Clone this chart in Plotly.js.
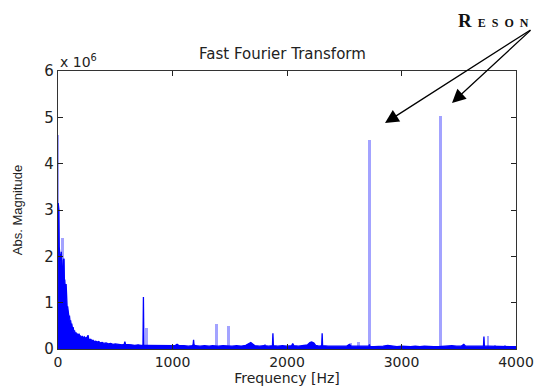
<!DOCTYPE html>
<html>
<head>
<meta charset="utf-8">
<script src="https://cdn.plot.ly/plotly-3.0.1.min.js"></script>
<style>
html,body{margin:0;padding:0;background:#fff;}
#chart{width:538px;height:386px;}
</style>
</head>
<body>
<div id="chart"></div>
<script>
// Spectrum (dark blue), magnitude in units of 10^6
var freqDark = [0,2,5,8,11,14,17,20,23,26,29,32,35,38,41,44,47,50,53,56,59,62,65,68,71,74,77,80,84,88,92,96,100,105,110,115,120,126,132,138,144,150,157,164,171,178,184,190,198,206,214,222,230,238,246,254,262,268,276,286,296,306,318,330,342,356,370,385,400,420,440,460,480,500,520,540,560,578,584,590,610,640,670,700,725,742,746,750,770,800,830,860,900,940,980,1020,1040,1060,1100,1140,1170,1180,1184,1188,1200,1240,1280,1320,1350,1400,1440,1480,1520,1560,1600,1640,1665,1684,1700,1720,1760,1800,1840,1873,1877,1881,1920,1960,2000,2040,2050,2060,2100,2140,2180,2200,2215,2235,2250,2280,2303,2307,2311,2360,2400,2440,2480,2520,2545,2560,2600,2640,2680,2716,2720,2724,2760,2800,2840,2880,2920,2960,3000,3040,3080,3120,3160,3200,3240,3280,3320,3360,3400,3440,3480,3520,3544,3560,3600,3640,3680,3716,3720,3724,3760,3800,3840,3880,3920,3960,4000];
var magDark = [0,3.15,2.7,3.0,2.2,2.1,2.15,1.9,2.05,1.8,2.1,1.7,1.85,1.6,1.75,1.55,1.92,1.6,1.95,1.45,1.5,1.3,1.35,1.1,1.4,0.95,0.98,0.88,0.92,0.75,0.78,0.68,0.72,0.6,0.62,0.52,0.55,0.45,0.47,0.38,0.4,0.33,0.36,0.3,0.32,0.28,0.33,0.26,0.28,0.25,0.27,0.24,0.26,0.22,0.25,0.22,0.3,0.22,0.2,0.21,0.18,0.19,0.16,0.17,0.15,0.16,0.13,0.14,0.12,0.13,0.11,0.12,0.1,0.11,0.1,0.1,0.09,0.1,0.16,0.1,0.09,0.09,0.08,0.09,0.08,0.08,1.12,0.08,0.08,0.08,0.07,0.08,0.07,0.07,0.08,0.07,0.1,0.07,0.07,0.06,0.07,0.09,0.2,0.09,0.07,0.06,0.07,0.06,0.07,0.06,0.07,0.06,0.06,0.07,0.06,0.08,0.11,0.14,0.11,0.07,0.06,0.07,0.06,0.07,0.34,0.07,0.06,0.07,0.06,0.07,0.12,0.07,0.06,0.07,0.09,0.14,0.15,0.13,0.08,0.06,0.07,0.34,0.07,0.06,0.06,0.05,0.06,0.06,0.1,0.06,0.06,0.06,0.05,0.06,0.1,0.05,0.05,0.05,0.06,0.08,0.06,0.05,0.06,0.05,0.05,0.06,0.05,0.06,0.05,0.05,0.05,0.06,0.06,0.07,0.06,0.06,0.1,0.06,0.06,0.06,0.06,0.06,0.27,0.06,0.06,0.06,0.05,0.06,0.05,0.06,0.05];

// Overlaid light-blue peaks
var freqLight = [0,38,772,1386,1491,1807,2560,2625,2720,3340,3754,3816,3904];
var magLight = [4.62,2.4,0.45,0.53,0.50,0.10,0.12,0.15,4.52,5.02,0.27,0.08,0.09];

var xTicks = [0,1000,2000,3000,4000];
var yTicks = [0,1,2,3,4,5,6];

var titleText = 'Fast Fourier Transform';
var xTitle = 'Frequency [Hz]';
var yTitle = 'Abs. Magnitude';
var exponentText = 'x 10<sup>6</sup>';
var calloutText = '<b>R<span style="font-size:12px">&#8194;E&#8194;S&#8194;O&#8194;N</span></b>';

var FONT = 'DejaVu Sans, Liberation Sans, sans-serif';
var FONT2 = 'Liberation Sans, Arial, sans-serif';

var traces = [
  {
    type: 'bar', x: freqLight, y: magLight, width: 22,
    marker: {color: '#a3a3ff', line: {width: 0}},
    hoverinfo: 'skip', showlegend: false
  },
  {
    type: 'scatter', mode: 'lines', x: freqDark, y: magDark,
    line: {color: '#0000ff', width: 1.3},
    fill: 'tozeroy', fillcolor: '#0000ff',
    hoverinfo: 'skip', showlegend: false
  }
];

var layout = {
  width: 538, height: 386,
  margin: {l: 58, r: 22, t: 71, b: 37},
  paper_bgcolor: '#fff', plot_bgcolor: '#fff',
  font: {family: FONT, size: 13, color: '#222'},
  title: {text: titleText, x: 0.525, xanchor: 'center', y: 0.86, yanchor: 'middle',
          font: {family: FONT, size: 15, color: '#222'}},
  bargap: 0,
  xaxis: {
    range: [0, 4000], tickvals: xTicks, ticktext: xTicks.map(String),
    ticks: 'inside', ticklen: 5, tickcolor: '#222', mirror: 'ticks',
    showline: true, linecolor: '#333', linewidth: 1.3, showgrid: false, zeroline: false,
    tickfont: {family: FONT, size: 14, color: '#222'},
    title: {text: xTitle, standoff: 3, font: {family: FONT, size: 14, color: '#222'}},
    automargin: false
  },
  yaxis: {
    range: [0, 6], tickvals: yTicks, ticktext: yTicks.map(String),
    ticks: 'inside', ticklen: 5, tickcolor: '#222', mirror: 'ticks',
    showline: true, linecolor: '#333', linewidth: 1.3, showgrid: false, zeroline: false,
    tickfont: {family: FONT, size: 15, color: '#222'},
    title: {text: yTitle, standoff: 18, font: {family: FONT2, size: 13, color: '#222'}},
    automargin: false
  },
  annotations: [
    {xref: 'paper', yref: 'paper', x: 0.0, y: 1.035, xanchor: 'left', yanchor: 'middle',
     text: exponentText, showarrow: false, font: {family: FONT, size: 14, color: '#222'}},
    {xref: 'paper', yref: 'paper', x: 0.869, y: 1.183, xanchor: 'left', yanchor: 'middle',
     text: calloutText, showarrow: false,
     font: {family: 'Liberation Serif, Times New Roman, serif', size: 19, color: '#111'}},
    {xref: 'paper', yref: 'paper', x: (385-58)/458, y: (349-123)/278, text: '',
     showarrow: true, ax: 147, ay: -94, arrowhead: 2, arrowsize: 2.1, arrowwidth: 1.3,
     arrowcolor: '#000', standoff: 0},
    {xref: 'paper', yref: 'paper', x: (452-58)/458, y: (349-103)/278, text: '',
     showarrow: true, ax: 80, ay: -74, arrowhead: 2, arrowsize: 2.1, arrowwidth: 1.3,
     arrowcolor: '#000', standoff: 0}
  ]
};

Plotly.newPlot('chart', traces, layout, {staticPlot: true, displayModeBar: false});
</script>
</body>
</html>
